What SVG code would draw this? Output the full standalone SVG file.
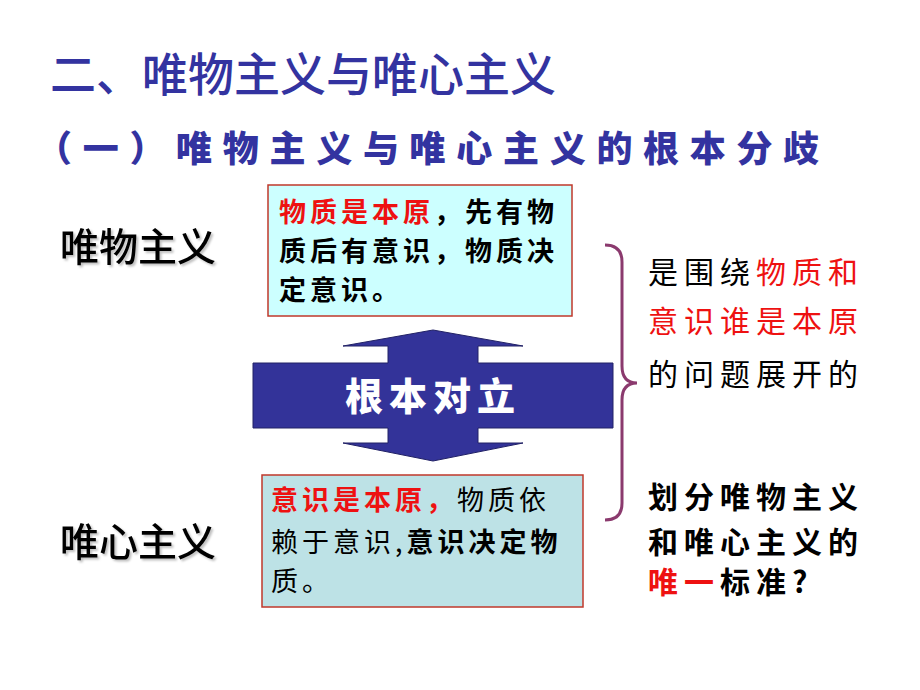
<svg xmlns="http://www.w3.org/2000/svg" width="920" height="690" viewBox="0 0 920 690">
<defs>
<style>
.cjk{font-family:"Noto Sans CJK SC","Noto Sans CJK TC",sans-serif;}
.title{fill:#3333a0;font-size:46px;font-weight:500;}
.sub{fill:#3333a0;font-size:36px;font-weight:900;letter-spacing:10.7px;}
.lbl{fill:#000;font-size:39px;font-weight:500;}
.box1{fill:#ccffff;stroke:#c0392b;stroke-width:1.5;}
.box2{fill:#bde2e6;stroke:#c0392b;stroke-width:1.5;}
.bt{font-size:27px;fill:#000;letter-spacing:4px;}
.rt{font-size:30px;fill:#000;letter-spacing:6px;}
text.red,tspan.red,.rt.red{fill:#ee1111;}
</style>
<filter id="sh" x="-5%" y="-5%" width="115%" height="120%"><feDropShadow dx="2" dy="2" stdDeviation="1" flood-color="#000" flood-opacity="0.25"/></filter>
</defs>
<rect width="920" height="690" fill="#fff"/>
<g id="title" class="cjk">
<text x="50" y="91" class="title">二、唯物主义与唯心主义</text>
<text x="36" y="162" class="sub">（一）唯物主义与唯心主义的根本分歧</text>
</g>
<g id="lbl-materialism" class="cjk"><text x="60" y="261" class="lbl" filter="url(#sh)">唯物主义</text></g>
<g id="lbl-idealism" class="cjk"><text x="60" y="556" class="lbl" filter="url(#sh)">唯心主义</text></g>
<g id="box-top" class="cjk">
<rect x="268" y="185" width="304" height="131" class="box1"/>
<text x="279" y="222" class="bt" font-weight="700"><tspan class="red">物质是本原</tspan>，先有物</text>
<text x="279" y="261" class="bt" font-weight="700">质后有意识，物质决</text>
<text x="279" y="300" class="bt" font-weight="700">定意识。</text>
</g>
<g id="box-bottom" class="cjk">
<rect x="262" y="475" width="321" height="132" class="box2"/>
<text x="271" y="510" class="bt"><tspan class="red" font-weight="700">意识是本原，</tspan>物质依</text>
<text x="271" y="552" class="bt">赖于意识,<tspan font-weight="700">意识决定物</tspan></text>
<text x="271" y="591" class="bt">质。</text>
</g>
<g id="arrow">
<polygon points="433,330 523,346 478,346 478,363 613,363 613,428 478,428 478,443 523,443 433,461 343,443 388,443 388,428 253,428 253,363 388,363 388,346 343,346" fill="#333399" stroke="#222266" stroke-width="1"/>
<text x="433" y="410" text-anchor="middle" class="cjk" font-size="38" font-weight="900" fill="#fff" letter-spacing="6">根本对立</text>
</g>
<g id="connectors">
<path d="M605,245 Q622,245 622,262 L622,366 Q622,383 637,383 Q622,383 622,400 L622,503 Q622,520 605,520" fill="none" stroke="#8b3a6e" stroke-width="3"/>
</g>
<g id="right-top" class="cjk">
<text x="648" y="283" class="rt">是围绕<tspan class="red">物质和</tspan></text>
<text x="648" y="332" class="rt red">意识谁是本原</text>
<text x="648" y="385" class="rt">的问题展开的</text>
</g>
<g id="right-bottom" class="cjk">
<text x="648" y="508" class="rt" font-weight="700">划分唯物主义</text>
<text x="648" y="553" class="rt" font-weight="700">和唯心主义的</text>
<text x="648" y="593" class="rt" font-weight="700"><tspan class="red">唯一</tspan>标准?</text>
</g>
</svg>
